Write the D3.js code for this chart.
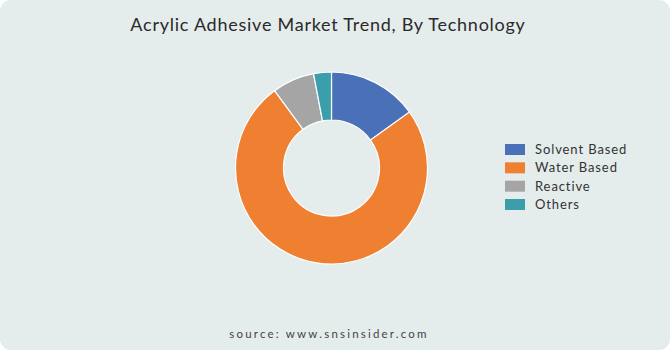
<!DOCTYPE html>
<html>
<head>
<meta charset="utf-8">
<title>Acrylic Adhesive Market Trend</title>
<script src="https://cdn.jsdelivr.net/npm/d3@7"></script>
<style>
  body { margin: 0; background: #ffffff; }
  svg { display: block; }
</style>
</head>
<body>
<svg id="chart" width="670" height="350"></svg>
<script>
// data (share of market, %)
var categories = ["Solvent Based", "Water Based", "Reactive", "Others"];
var shares = [15.1, 74.8, 7.1, 3.0];
var colors = ["#4a70b8", "#ef7f31", "#a5a5a5", "#3b9eab"];

var width = 670, height = 350;
var cx = 331.5, cy = 168, outerR = 96, innerR = 48;

var svg = d3.select("#chart");

svg.append("rect")
  .attr("x", 0).attr("y", 0)
  .attr("width", width).attr("height", height)
  .attr("rx", 11).attr("ry", 11)
  .attr("fill", "#e4ecec");

svg.append("text")
  .attr("x", 328).attr("y", 31)
  .attr("text-anchor", "middle")
  .attr("font-family", "Lato, 'DejaVu Sans', sans-serif")
  .attr("font-size", 18)
  .attr("letter-spacing", 0.75)
  .attr("fill", "#2a2a2a")
  .text("Acrylic Adhesive Market Trend, By Technology");

var color = d3.scaleOrdinal().domain(categories).range(colors);

var pie = d3.pie().sort(null).value(function(d) { return d.v; });
var arc = d3.arc().innerRadius(innerR).outerRadius(outerR);

var data = categories.map(function(c, i) { return { name: c, v: shares[i] }; });

svg.append("g")
  .attr("transform", "translate(" + cx + "," + cy + ")")
  .selectAll("path")
  .data(pie(data))
  .enter()
  .append("path")
  .attr("d", arc)
  .attr("fill", function(d) { return color(d.data.name); })
  .attr("stroke", "#ffffff")
  .attr("stroke-width", 1.2);

// legend
var legendY = d3.scalePoint().domain(categories).range([149.5, 204.5]);

var legend = svg.append("g").selectAll("g")
  .data(categories)
  .enter()
  .append("g")
  .attr("transform", function(d) { return "translate(505," + legendY(d) + ")"; });

legend.append("rect")
  .attr("x", 0).attr("y", -5.5)
  .attr("width", 20).attr("height", 11)
  .attr("fill", function(d) { return color(d); });

legend.append("text")
  .attr("x", 30).attr("y", 0)
  .attr("dy", "0.35em")
  .attr("font-family", "Lato, 'DejaVu Sans', sans-serif")
  .attr("font-size", 13)
  .attr("letter-spacing", 0.9)
  .attr("fill", "#333")
  .text(function(d) { return d; });

svg.append("text")
  .attr("x", 329).attr("y", 338)
  .attr("text-anchor", "middle")
  .attr("font-family", "Lato, 'DejaVu Sans', sans-serif")
  .attr("font-size", 11.5)
  .attr("letter-spacing", 2.2)
  .attr("fill", "#444")
  .text("source: www.snsinsider.com");
</script>
</body>
</html>
